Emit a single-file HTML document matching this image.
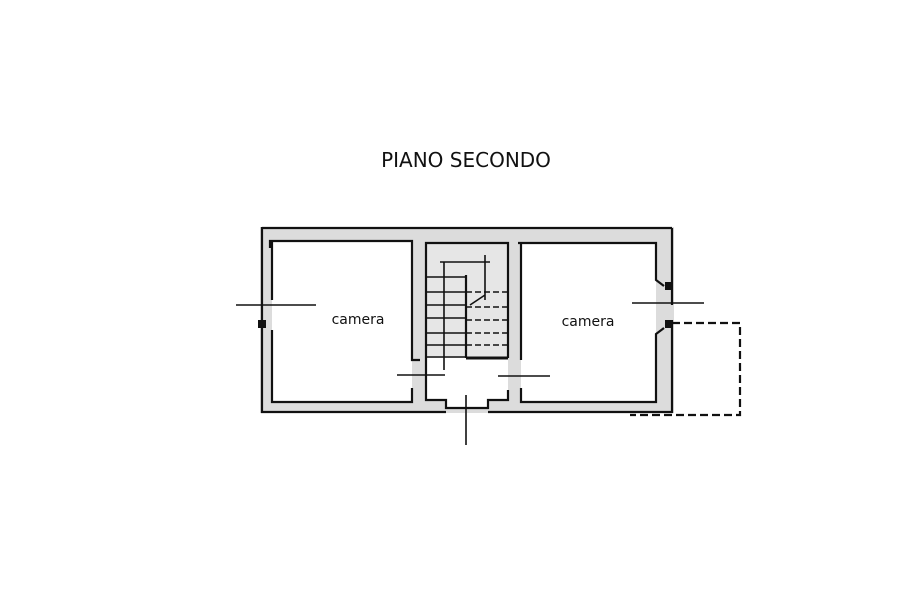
<!DOCTYPE html>
<html><head><style>
body{margin:0;background:#fff;width:900px;height:600px;overflow:hidden}
</style></head><body>
<svg width="900" height="600" viewBox="0 0 900 600" xmlns="http://www.w3.org/2000/svg">
<text x="466" y="167" text-anchor="middle" font-family="DejaVu Sans, Liberation Sans, sans-serif" font-size="20" fill="#111">PIANO SECONDO</text>
<!-- wall mass -->
<rect x="260" y="227" width="414" height="186" fill="#dcdcdc"/>
<!-- room interiors -->
<rect x="272" y="241" width="140" height="161" fill="#fff"/>
<rect x="521" y="243" width="135" height="159" fill="#fff"/>
<rect x="426" y="243" width="82" height="115" fill="#e6e6e6"/>
<rect x="426" y="358" width="82" height="42" fill="#fff"/>
<rect x="446" y="400" width="42" height="8" fill="#fff"/>
<g stroke="#111" fill="none" stroke-width="2.2">
<!-- outer -->
<path d="M262 227 V412 H446 M488 412 H672 V320 M672 305 V228 M262 228 H672"/>
<path d="M270 248 V241 H412 V360 H420 M412 388 V402 H272 V330 M272 300 V241"/>
<path d="M521 243 H656 V280 L664 286 M664 328 L656 334 V402 H521 V388 M521 360 V243 H518"/>
<path d="M426 358 V243 H508 V358 M426 358 V400 H446 V408 H488 V400 H508 V390"/>
<path d="M466 358 H508" stroke-width="3"/>
<path d="M466 275 V358"/>
</g>
<g stroke="#111" stroke-width="1.6">
<path d="M426 277 H466 M426 292 H466 M426 305 H466 M426 318 H466 M426 333 H466 M426 345 H466 M426 357 H466"/>
<path d="M466 292 H508 M466 307 H508 M466 320 H508 M466 333 H508 M466 345 H508" stroke-dasharray="6 3"/>
<path d="M440 262 H490 M444 262 V370 M485 255 V300 M470 305 L485 295"/>
<path d="M236 305 H316 M397 375 H445 M498 376 H550 M632 303 H704 M466 395 V445"/>
</g>
<rect x="258" y="320" width="8" height="8" fill="#111"/>
<rect x="665" y="282" width="8" height="8" fill="#111"/>
<rect x="665" y="320" width="8" height="8" fill="#111"/>
<path d="M672 323 H740 V415 H630" stroke="#111" stroke-width="2.2" fill="none" stroke-dasharray="8 4"/>
<text x="358" y="324" text-anchor="middle" font-family="DejaVu Sans, Liberation Sans, sans-serif" font-size="14" fill="#111">camera</text>
<text x="588" y="326" text-anchor="middle" font-family="DejaVu Sans, Liberation Sans, sans-serif" font-size="14" fill="#111">camera</text>
</svg>
</body></html>
